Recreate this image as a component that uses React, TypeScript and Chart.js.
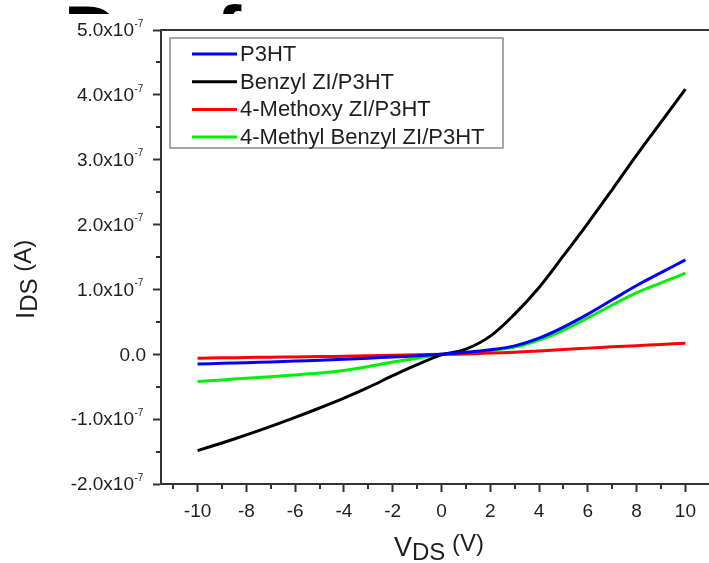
import React, { useEffect, useRef } from "react";
import { Chart, registerables } from "chart.js";

Chart.register(...registerables);

// ---- data (V_DS in volts, I_DS in amperes) ----
const vds = [-10, -9, -8, -7, -6, -5, -4, -3, -2, -1, 0, 1, 2, 3, 4, 5, 6, 7, 8, 9, 10];
const p3ht = [-0.15, -0.14, -0.13, -0.118, -0.105, -0.092, -0.076, -0.06, -0.042, -0.022, 0, 0.03, 0.07, 0.13, 0.25, 0.42, 0.62, 0.84, 1.06, 1.26, 1.455].map((v) => v * 1e-7);
const benzylZI = [-1.485, -1.367, -1.243, -1.112, -0.973, -0.828, -0.676, -0.51, -0.33, -0.16, -0.01, 0.08, 0.28, 0.62, 1.03, 1.52, 2.02, 2.54, 3.07, 3.58, 4.09].map((v) => v * 1e-7);
const methoxyZI = [-0.06, -0.055, -0.05, -0.045, -0.04, -0.035, -0.03, -0.022, -0.015, -0.008, 0, 0.005, 0.018, 0.033, 0.052, 0.075, 0.095, 0.115, 0.133, 0.152, 0.17].map((v) => v * 1e-7);
const methylBenzylZI = [-0.42, -0.395, -0.37, -0.345, -0.32, -0.29, -0.25, -0.19, -0.12, -0.06, 0, 0.02, 0.06, 0.11, 0.22, 0.37, 0.56, 0.76, 0.95, 1.1, 1.25].map((v) => v * 1e-7);

const seriesLabels = ["P3HT", "Benzyl ZI/P3HT", "4-Methoxy ZI/P3HT", "4-Methyl Benzyl ZI/P3HT"];
const seriesColors = ["#0000ff", "#000000", "#ff0000", "#00f000"];

const xMajorTicks = [-10, -8, -6, -4, -2, 0, 2, 4, 6, 8, 10];
const xMinorTicks = [-11, -9, -7, -5, -3, -1, 1, 3, 5, 7, 9, 11];
const yMajorTicks = [-2, -1, 0, 1, 2, 3, 4, 5].map((v) => v * 1e-7);
const yMinorTicks = [-1.5, -0.5, 0.5, 1.5, 2.5, 3.5, 4.5].map((v) => v * 1e-7);

const FONT = "'Liberation Sans', Arial, Helvetica, sans-serif";
const AXIS = "#333333";
const TEXT = "#1e1e1e";
const CANVAS_W = 740;
const CANVAS_H = 563;

const decor = {
  id: "decor",
  afterDraw(chart: any) {
    const { ctx, chartArea: ca, scales } = chart;
    const xs = scales.x;
    const ys = scales.y;
    ctx.save();
    // top frame line
    ctx.strokeStyle = AXIS;
    ctx.lineWidth = 2;
    ctx.beginPath();
    ctx.moveTo(ca.left - 1, ca.top);
    ctx.lineTo(ca.right, ca.top);
    ctx.stroke();
    // minor ticks
    ctx.beginPath();
    for (const v of xMinorTicks) {
      const px = Math.round(xs.getPixelForValue(v));
      ctx.moveTo(px, ca.bottom);
      ctx.lineTo(px, ca.bottom + 5);
    }
    for (const v of yMinorTicks) {
      const py = Math.round(ys.getPixelForValue(v));
      ctx.moveTo(ca.left, py);
      ctx.lineTo(ca.left - 5, py);
    }
    ctx.stroke();

    // y tick labels with superscript exponent
    ctx.fillStyle = TEXT;
    ctx.textBaseline = "middle";
    for (const v of yMajorTicks) {
      const py = ys.getPixelForValue(v);
      const m = v / 1e-7;
      if (Math.abs(m) < 1e-9) {
        ctx.font = `19px ${FONT}`;
        ctx.textAlign = "right";
        ctx.fillText("0.0", ca.left - 15, py + 1);
      } else {
        ctx.font = `19px ${FONT}`;
        ctx.textAlign = "right";
        const mainRight = ca.left - 27;
        ctx.fillText(m.toFixed(1) + "x10", mainRight, py + 1);
        ctx.font = `10px ${FONT}`;
        ctx.textAlign = "left";
        ctx.fillText("-7", mainRight + 0.5, py - 6);
      }
    }

    // x axis title: V_DS (V)
    ctx.textAlign = "left";
    ctx.textBaseline = "alphabetic";
    const parts = [
      { t: "V", f: 27, dy: 0 },
      { t: "DS", f: 24, dy: 4 },
      { t: " (V)", f: 24, dy: -5 },
    ];
    let total = 0;
    for (const p of parts) {
      ctx.font = `${p.f}px ${FONT}`;
      total += ctx.measureText(p.t).width;
    }
    let x = 439 - total / 2;
    for (const p of parts) {
      ctx.font = `${p.f}px ${FONT}`;
      ctx.fillText(p.t, x, 556 + p.dy);
      x += ctx.measureText(p.t).width;
    }

    // y axis title: I_DS (A)
    ctx.save();
    ctx.translate(34, 319);
    ctx.rotate(-Math.PI / 2);
    const yparts = [
      { t: "I", f: 26, dy: 0 },
      { t: "DS", f: 24, dy: 3 },
      { t: " (A)", f: 24, dy: -3 },
    ];
    let yx = 0;
    for (const p of yparts) {
      ctx.font = `${p.f}px ${FONT}`;
      ctx.fillText(p.t, yx, p.dy);
      yx += ctx.measureText(p.t).width;
    }
    ctx.restore();

    // legend box
    const bx = ca.left + 9;
    const by = ca.top + 8;
    ctx.strokeStyle = "#8a8a8a";
    ctx.lineWidth = 1.5;
    ctx.strokeRect(bx, by, 333, 110);
    ctx.font = `22px ${FONT}`;
    ctx.textBaseline = "middle";
    chart.data.datasets.forEach((ds: any, i: number) => {
      const ry = by + 16 + i * 27.7;
      ctx.strokeStyle = ds.borderColor;
      ctx.lineWidth = 3;
      ctx.beginPath();
      ctx.moveTo(bx + 22, ry);
      ctx.lineTo(bx + 67, ry);
      ctx.stroke();
      ctx.fillStyle = TEXT;
      ctx.fillText(ds.label, bx + 70, ry + 1);
    });
    ctx.restore();
  },
};

export default function App() {
  const ref = useRef<HTMLCanvasElement>(null);
  useEffect(() => {
    if (!ref.current) return;
    const series = [p3ht, benzylZI, methoxyZI, methylBenzylZI];
    const chart = new Chart(ref.current, {
      type: "line",
      data: {
        datasets: series.map((s, i) => ({
          label: seriesLabels[i],
          data: vds.map((v, j) => ({ x: v, y: s[j] })),
          borderColor: seriesColors[i],
          backgroundColor: seriesColors[i],
          borderWidth: 3,
          pointRadius: 0,
          tension: 0.35,
          fill: false,
        })),
      },
      options: {
        responsive: false,
        animation: false,
        devicePixelRatio: 1,
        layout: { padding: { left: 0, top: 30, right: CANVAS_W - 722, bottom: 0 } },
        plugins: {
          legend: { display: false },
          tooltip: { enabled: false },
        },
        scales: {
          x: {
            type: "linear",
            min: -11.5,
            max: 11.5,
            afterBuildTicks: (s: any) => {
              s.ticks = xMajorTicks.map((v) => ({ value: v }));
            },
            afterFit: (s: any) => {
              s.height = CANVAS_H - 484;
            },
            ticks: {
              autoSkip: false,
              maxRotation: 0,
              padding: 8,
              color: TEXT,
              font: { family: FONT, size: 19 },
            },
            grid: {
              display: true,
              drawOnChartArea: false,
              drawTicks: true,
              tickLength: 8,
              tickWidth: 2,
              tickColor: AXIS,
            },
            border: { display: true, color: AXIS, width: 2 },
          },
          y: {
            type: "linear",
            min: -2e-7,
            max: 5e-7,
            afterBuildTicks: (s: any) => {
              s.ticks = yMajorTicks.map((v) => ({ value: v }));
            },
            afterFit: (s: any) => {
              s.width = 161;
            },
            ticks: { display: false },
            grid: {
              display: true,
              drawOnChartArea: false,
              drawTicks: true,
              tickLength: 8,
              tickWidth: 2,
              tickColor: AXIS,
            },
            border: { display: true, color: AXIS, width: 2 },
          },
        },
      },
      plugins: [decor],
    });
    return () => chart.destroy();
  }, []);

  return (
    <div
      style={{
        position: "absolute",
        left: 0,
        top: 0,
        width: 709,
        height: 563,
        overflow: "hidden",
        background: "#fff",
      }}
    >
      <canvas
        ref={ref}
        width={CANVAS_W}
        height={CANVAS_H}
        style={{ position: "absolute", left: 0, top: 0, width: CANVAS_W, height: CANVAS_H }}
      />
      <div
        style={{
          position: "absolute",
          left: 0,
          top: 0,
          width: 709,
          height: 14,
          overflow: "hidden",
          fontFamily: FONT,
          fontWeight: "bold",
          fontSize: 76,
          lineHeight: "76px",
          color: "#000",
        }}
      >
        <span style={{ position: "absolute", left: 64, top: -5 }}>D</span>
        <span style={{ position: "absolute", left: 216, top: -5 }}>f</span>
      </div>
    </div>
  );
}
